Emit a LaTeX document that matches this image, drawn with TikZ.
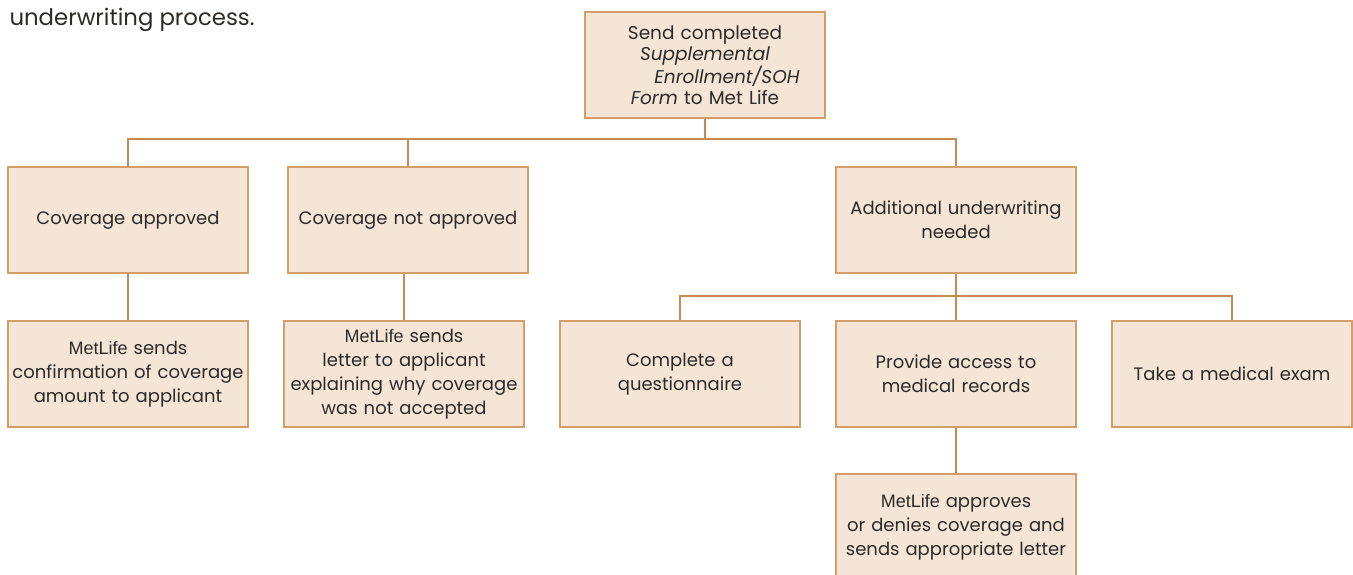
\documentclass[tikz,border=0pt]{standalone}
\usepackage{fontspec}
\setmainfont{Poppins}
\newfontfamily\metfont{Liberation Sans}
\usetikzlibrary{positioning}
\definecolor{boxfill}{RGB}{244,229,214}
\definecolor{boxline}{RGB}{212,158,106}
\definecolor{linkline}{RGB}{200,138,78}
\definecolor{txt}{RGB}{45,42,40}
\newcommand{\ML}{{\metfont MetLife}}
\tikzset{
    stepbox/.style={
        rectangle,
        draw=boxline,
        fill=boxfill,
        line width=1.5pt,
        minimum width=240pt,
        minimum height=106pt,
        text width=238pt,
        align=center,
        inner sep=0pt,
        text=txt,
        font=\fontsize{18}{24}\selectfont
    },
    link/.style={
        draw=linkline,
        line width=1.8pt
    }
}

\begin{document}
\begin{tikzpicture}[x=1pt,y=-1pt]
\clip (0,0) rectangle (1353,574);
\fill[white] (0,0) rectangle (1353,574);
\node[anchor=west,text=txt,font=\fontsize{22.8}{25}\selectfont] (caption) at (6,20) {underwriting process.};
\node[stepbox,font=\fontsize{18.5}{21}\selectfont] (send) at (705,65) {Send completed\\ \textit{Supplemental}\\ \hspace*{44pt}\textit{Enrollment/SOH}\\ \textit{Form} to Met Life};
\node[stepbox] (ok) at (128,220) {Coverage approved};
\node[stepbox] (notok) at (408,220) {Coverage not approved};
\node[stepbox] (more) at (956,220) {Additional underwriting\\ needed};
\node[stepbox] (confirm) at (128,374) {\ML\ sends\\ confirmation of coverage\\ amount to applicant};
\node[stepbox] (letter) at (404,374) {\ML\ sends\\ letter to applicant\\ explaining why coverage\\ was not accepted};
\node[stepbox] (quest) at (680,374) {Complete a\\ questionnaire};
\node[stepbox] (records) at (956,374) {Provide access to\\ medical records};
\node[stepbox] (exam) at (1232,374) {Take a medical exam};
\node[stepbox] (decide) at (956,527) {\ML\ approves\\ or denies coverage and\\ sends appropriate letter};
\coordinate (bus1) at (705,139);
\coordinate (bus2) at (956,296);
\draw[link] (send.south) -- (bus1);
\draw[link] (bus1) -| (ok.north);
\draw[link] (bus1) -| (notok.north);
\draw[link] (bus1) -| (more.north);
\draw[link] (letter.north) -- (letter.north |- notok.south);
\draw[link] (ok.south) -- (confirm.north);
\draw[link] (more.south) -- (bus2);
\draw[link] (bus2) -| (quest.north);
\draw[link] (bus2) -- (records.north);
\draw[link] (bus2) -| (exam.north);
\draw[link] (records.south) -- (decide.north);
\end{tikzpicture}
\end{document}
